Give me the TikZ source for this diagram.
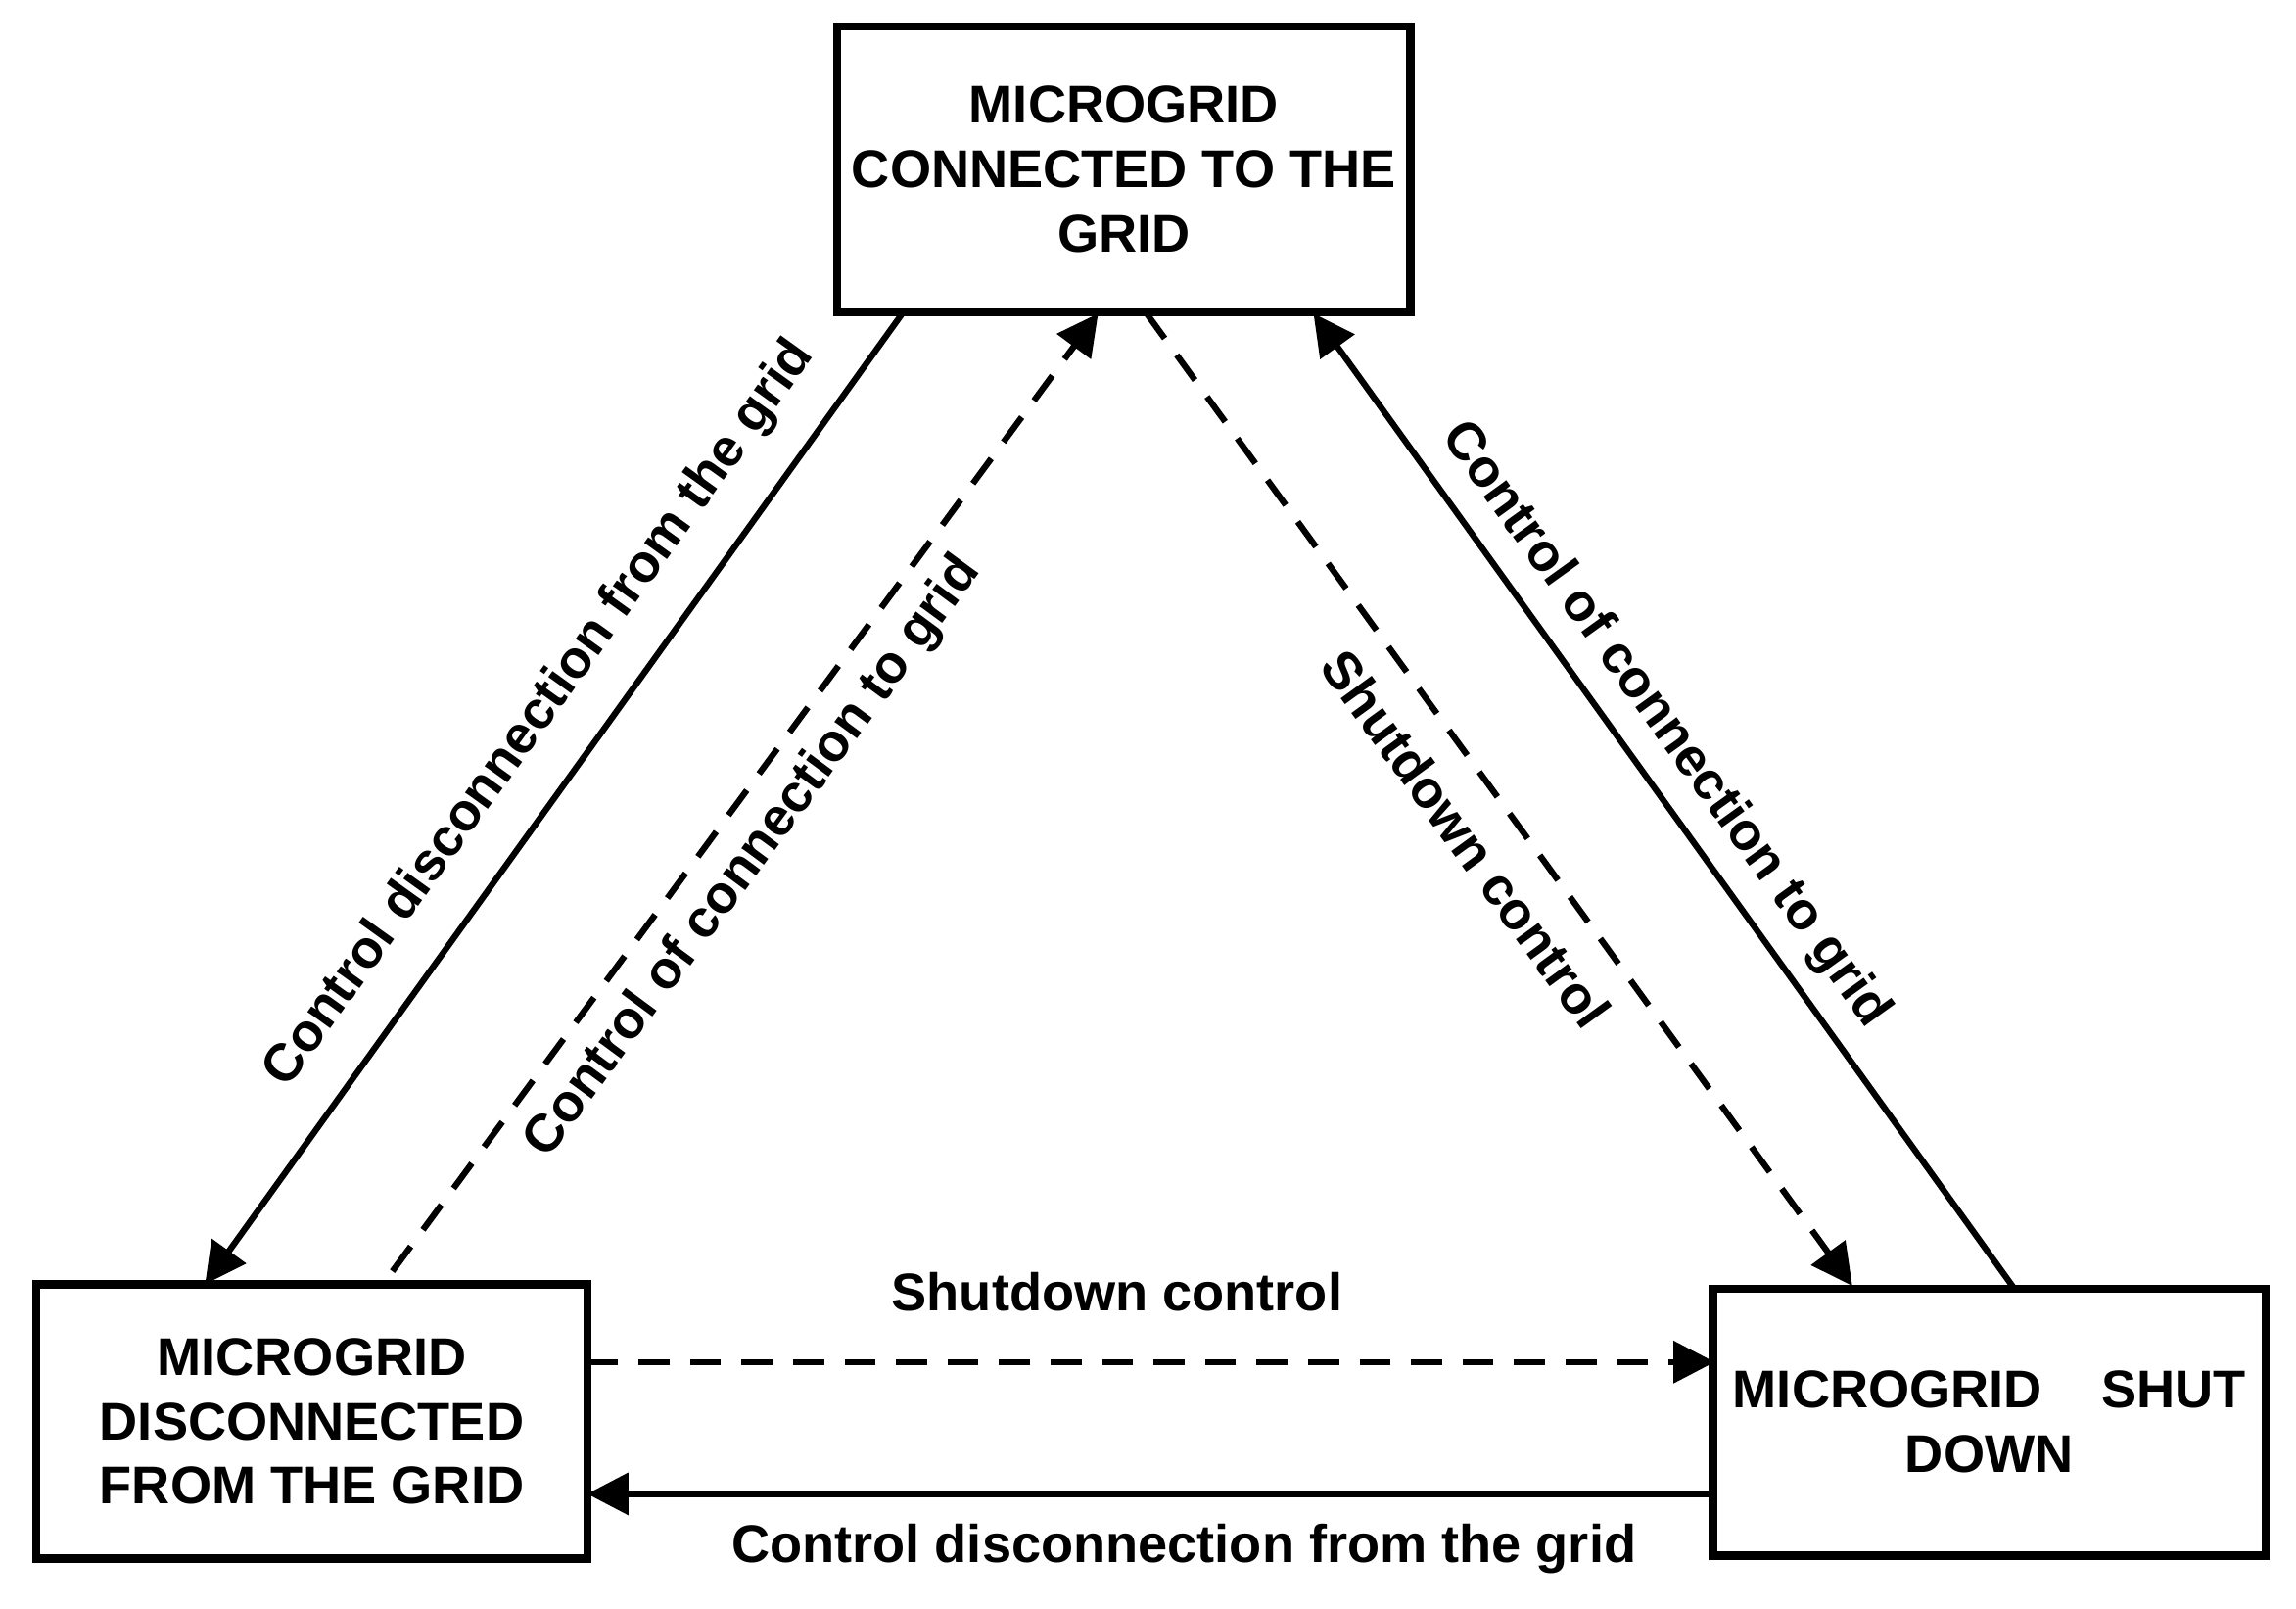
\documentclass[tikz,border=0pt]{standalone}
\usepackage{fontspec}
\setmainfont{Liberation Sans}
\usetikzlibrary{arrows.meta}
\tikzstyle{state}=[draw=black,line width=1.6pt,inner sep=0pt,align=center,font=\bfseries\fontsize{10.3}{12.5}\selectfont]
\tikzstyle{trans}=[line width=1.2pt,-{Triangle[length=8pt,width=8pt]}]
\tikzstyle{dashline}=[dash pattern=on 6pt off 4pt]
\tikzstyle{lbl}=[font=\bfseries\fontsize{10.3}{12.5}\selectfont,sloped]

\begin{document}
\begin{tikzpicture}[x=0.01cm,y=-0.01cm]
  \useasboundingbox (0,0) rectangle (1568,1098);
  \node[state,minimum width=3.91cm,minimum height=1.95cm] (con) at (767.5,115.5)
    {MICROGRID\\CONNECTED TO THE\\GRID};
  \node[state,minimum width=3.76cm,minimum height=1.87cm] (dis) at (213,970.5)
    {MICROGRID\\DISCONNECTED\\FROM THE GRID};
  \node[state,minimum width=3.77cm,minimum height=1.82cm,text width=3.5cm] (off) at (1358.5,971)
    {MICROGRID\hfill SHUT\\DOWN\\[1.3em]};
  % transitions between the states
  \coordinate (a1) at (617,213); \coordinate (a2) at (140,877);
  \coordinate (b1) at (268,868); \coordinate (b2) at (750,214);
  \coordinate (c1) at (783,214); \coordinate (c2) at (1265,878);
  \coordinate (d1) at (1375,879); \coordinate (d2) at (897,214);
  \coordinate (e1) at (401,930); \coordinate (e2) at (1171,930);
  \coordinate (f1) at (1170,1020); \coordinate (f2) at (401,1020);
  \draw[trans] (a1) -- node[lbl,above=3pt,pos=0.45] {Control disconnection from the grid} (a2);
  \draw[trans,dashline] (b1) -- node[lbl,below=0pt,pos=0.46] {Control of connection to grid} (b2);
  \draw[trans,dashline] (c1) -- node[lbl,below=2pt,pos=0.51] {Shutdown control} (c2);
  \draw[trans] (d1) -- node[lbl,above=0pt,pos=0.55] {Control of connection to grid} (d2);
  \draw[trans,dashline] (e1) -- node[lbl,above=6pt,pos=0.47] {Shutdown control} (e2);
  \draw[trans] (f1) -- node[lbl,below=2pt,pos=0.47] {Control disconnection from the grid} (f2);
\end{tikzpicture}
\end{document}
